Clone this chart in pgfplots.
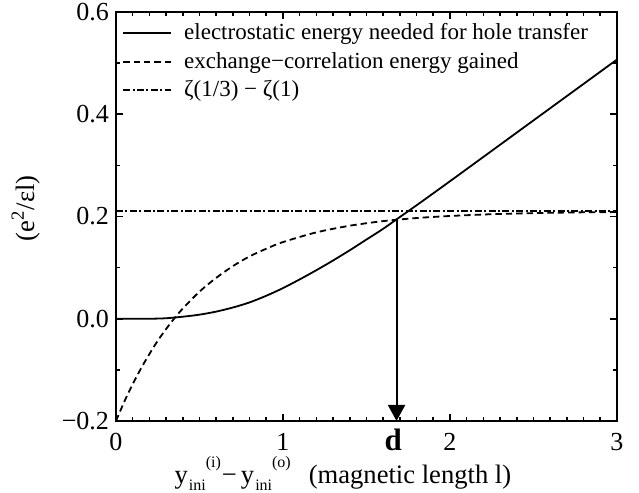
\documentclass[border=0pt]{standalone}
\usepackage{fontspec}
\setmainfont{Liberation Serif}
\usepackage{pgfplots}
\pgfplotsset{compat=1.18}
\usetikzlibrary{arrows.meta}
\newcommand{\yini}[1]{y\hspace{0.5pt}\raisebox{-3.5pt}{\fontsize{8}{9}\selectfont ini}\raisebox{8pt}{\fontsize{8}{9}\selectfont (#1)}}
\begin{document}
\begin{tikzpicture}
\begin{axis}[
  scale only axis, width=250.5pt, height=204.5pt,
  at={(0,0)}, anchor=south west,
  xmin=0, xmax=3, ymin=-0.2, ymax=0.6,
  axis line style={line width=1.3pt},
  xtick={0,1,2,3}, xticklabels={0,1,2,3},
  minor x tick num=9,
  ytick={-0.2,0,0.2,0.4,0.6}, yticklabels={−0.2,0.0,0.2,0.4,0.6},
  minor y tick num=1,
  tick align=inside, major tick length=3.5pt, minor tick length=2pt,
  every tick/.style={black, line width=0.8pt},
  tick label style={font=\fontsize{13}{15}\selectfont},
  xticklabel style={anchor=base, yshift=-15pt},
  extra x ticks={1.66}, extra x tick labels={\fontsize{15.5}{16}\selectfont\textbf{d}},
  extra x tick style={major tick length=0pt},
  xlabel={\yini{i}\hspace{0.5pt}−\hspace{2pt}\yini{o}\hspace{9pt}(magnetic length l)},
  xlabel style={font=\fontsize{13.3}{15}\selectfont, at={(axis description cs:0.453,0)}, anchor=base, yshift=-31.5pt},
  ylabel={(e\textsuperscript{2}/εl)},
  ylabel style={font=\fontsize{13.3}{15}\selectfont, at={(axis description cs:-0.18,0.52)}, anchor=center},
  legend cell align=left,
  legend style={draw=none, fill=none, at={(axis description cs:0,1)}, anchor=north west, yshift=-1.5pt,
    font=\fontsize{11.5}{13}\selectfont, column sep=4pt, row sep=0.8pt},
  legend image code/.code={\draw[#1] (0pt,0pt) -- (24pt,0pt);},
]
\addplot[black, line width=0.9pt, smooth] coordinates {
(0,0) (0.1,0) (0.2,0) (0.3,0.001) (0.4,0.004) (0.5,0.008) (0.6,0.014) (0.7,0.022)
(0.8,0.032) (0.9,0.045) (1.0,0.060) (1.1,0.077) (1.2,0.095) (1.3,0.114) (1.4,0.134)
(1.5,0.155) (1.6,0.176) (1.7,0.199) (1.8,0.222) (2.0,0.269) (2.5,0.388) (3.0,0.507)};
\addlegendentry{electrostatic energy needed for hole transfer}
\addplot[black, line width=0.9pt, smooth, dash pattern=on 3.2pt off 2pt] coordinates {
(0,-0.200) (0.05,-0.162) (0.1,-0.128) (0.15,-0.097) (0.2,-0.069) (0.25,-0.043) (0.3,-0.020)
(0.35,0.001) (0.4,0.020) (0.5,0.053) (0.6,0.080) (0.7,0.103) (0.8,0.122) (0.9,0.137)
(1.0,0.150) (1.2,0.169) (1.4,0.182) (1.6,0.191) (1.8,0.197) (2.0,0.201) (2.25,0.2045)
(2.5,0.2066) (2.75,0.208) (3.0,0.2087)};
\addlegendentry{exchange−correlation energy gained}
\addplot[black, line width=0.9pt, dash pattern=on 3.5pt off 1.2pt on 1pt off 1.2pt] coordinates {(0,0.21) (3,0.21)};
\addlegendentry{ζ(1/3) − ζ(1)}
\addplot[black, line width=1pt, -{Triangle[width=8.5pt,length=8pt]}, forget plot] coordinates {(1.68,0.195) (1.68,-0.2)};
\end{axis}
\pgfresetboundingbox
\path[use as bounding box] (-58pt,-36pt) rectangle (261.5pt,210.5pt);
\end{tikzpicture}
\end{document}
